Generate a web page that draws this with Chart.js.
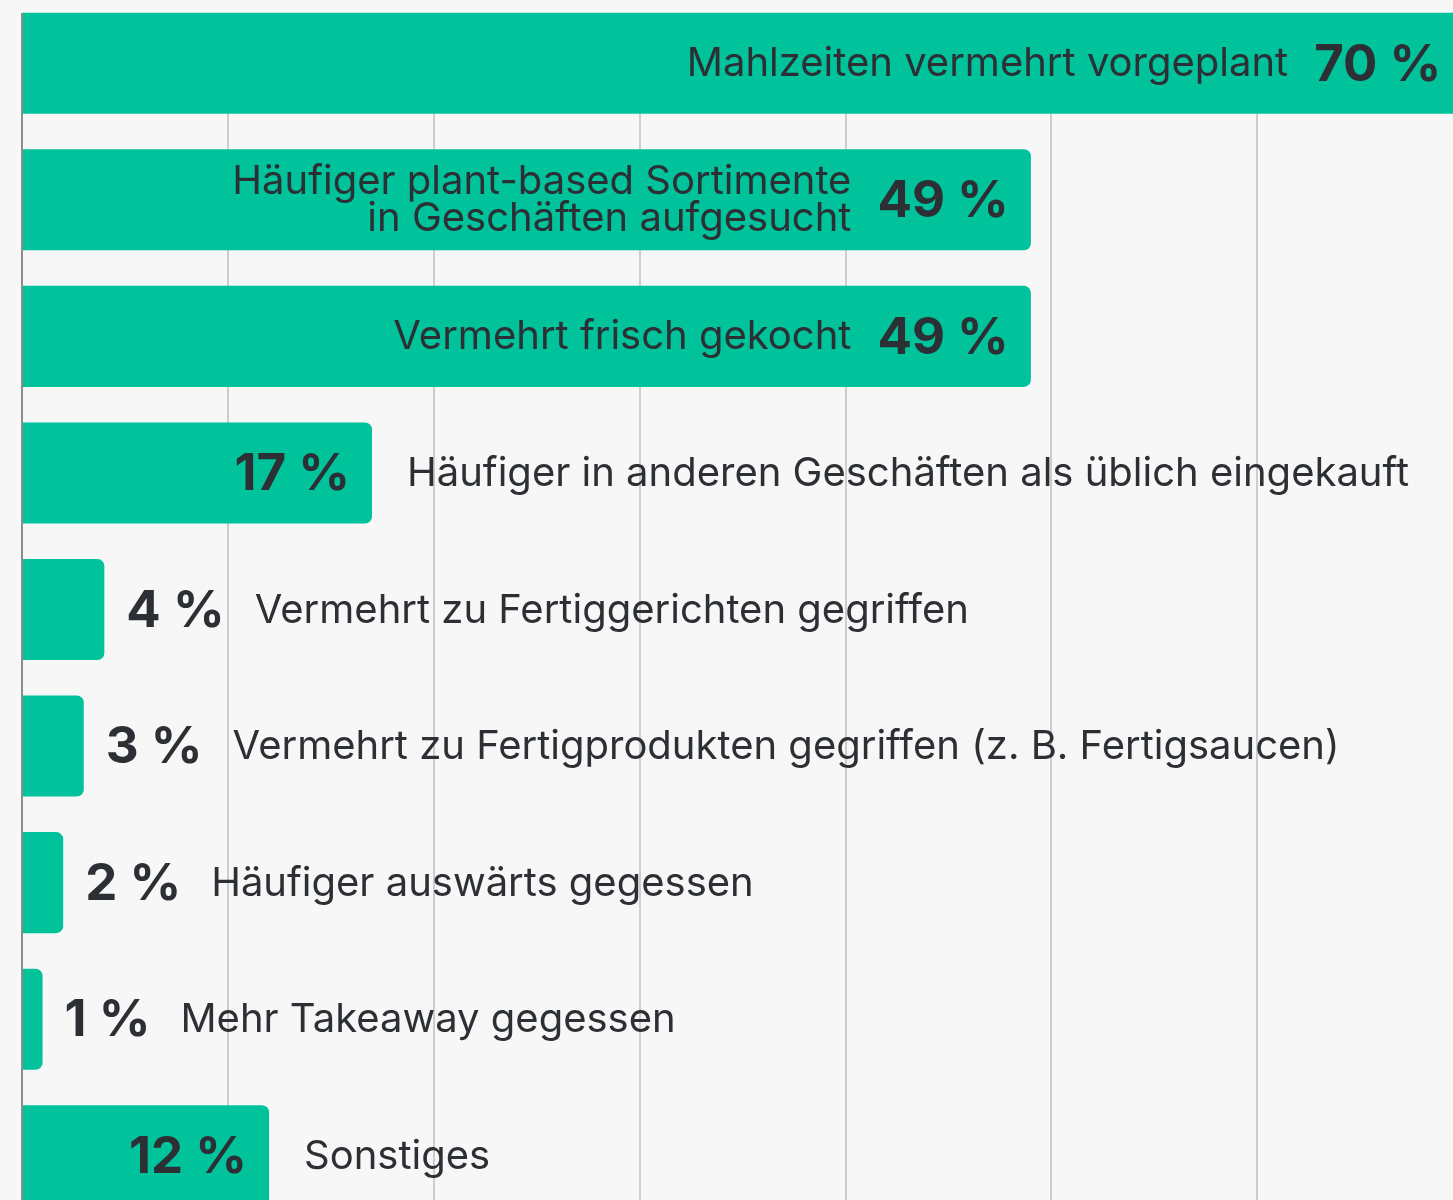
<!DOCTYPE html>
<html>
<head>
<meta charset="utf-8">
<script src="https://cdn.jsdelivr.net/npm/chart.js@4"></script>
<style>
  html, body { margin: 0; padding: 0; background: #f7f7f7; overflow: hidden; }
  body { width: 1453px; height: 1200px; position: relative; }
  #chart { position: absolute; left: 0; top: -5px; }
</style>
</head>
<body>
<canvas id="chart" width="1453" height="1229"></canvas>
<script>
// Data
const categories = [
    ["Mahlzeiten vermehrt vorgeplant"],
    ["Häufiger plant-based Sortimente", "in Geschäften aufgesucht"],
    ["Vermehrt frisch gekocht"],
    ["Häufiger in anderen Geschäften als üblich eingekauft"],
    ["Vermehrt zu Fertiggerichten gegriffen"],
    ["Vermehrt zu Fertigprodukten gegriffen (z. B. Fertigsaucen)"],
    ["Häufiger auswärts gegessen"],
    ["Mehr Takeaway gegessen"],
    ["Sonstiges"]
];
const shares = [70, 49, 49, 17, 4, 3, 2, 1, 12];
const gridSteps = [0, 10, 20, 30, 40, 50, 60];

const BAR_COLOR = "#00c39c";
const TEXT_COLOR = "#2c2f33";
const BG_COLOR = "#f7f7f7";
const LABEL_FONT = "40px Inter, 'Noto Sans', sans-serif";
const VALUE_FONT = "bold 51px Inter, 'Noto Sans', sans-serif";

// draws the value + text next to / inside each bar
const barLabels = {
    id: "barLabels",
    beforeDatasetsDraw(chart) {
        // keep the area above the first bar clean (no grid there)
        const ctx = chart.ctx;
        ctx.save();
        ctx.fillStyle = BG_COLOR;
        ctx.fillRect(0, 0, chart.width, 18);
        ctx.restore();
    },
    afterDatasetsDraw(chart) {
        const ctx = chart.ctx;
        const bars = chart.getDatasetMeta(0).data;
        ctx.save();
        ctx.fillStyle = TEXT_COLOR;
        ctx.textBaseline = "middle";

        bars.forEach((bar, i) => {
            const v = shares[i];
            const lines = categories[i];
            const valueText = v + " %";
            const end = bar.x;
            const y = bar.y;
            const lineH = 37;

            ctx.font = VALUE_FONT;
            const valueW = ctx.measureText(valueText).width;

            let valueLeft, labelX, labelAlign;
            if (v >= 40) {
                valueLeft = end - 22 - valueW;
                labelX = valueLeft - 26;
                labelAlign = "right";
            } else if (v >= 10) {
                valueLeft = end - 22 - valueW;
                labelX = end + 35;
                labelAlign = "left";
            } else {
                valueLeft = end + 22;
                labelX = valueLeft + valueW + 30;
                labelAlign = "left";
            }

            ctx.textAlign = "left";
            ctx.fillText(valueText, valueLeft, y + 2);

            ctx.font = LABEL_FONT;
            ctx.textAlign = labelAlign;
            const top = y - (lines.length - 1) * lineH / 2;
            lines.forEach((line, k) => {
                ctx.fillText(line, labelX, top + k * lineH + 1);
            });
        });
        ctx.restore();
    }
};

const chart = new Chart(document.getElementById("chart"), {
    type: "bar",
    data: {
        labels: categories,
        datasets: [{
            data: shares,
            backgroundColor: BAR_COLOR,
            borderWidth: 0,
            borderRadius: 7,
            borderSkipped: "start",
            categoryPercentage: 1,
            barPercentage: 0.74
        }]
    },
    options: {
        indexAxis: "y",
        responsive: false,
        animation: false,
        layout: { padding: { left: 22, right: 0, top: 0, bottom: 0 } },
        plugins: {
            legend: { display: false },
            tooltip: { enabled: false }
        },
        scales: {
            x: {
                min: 0,
                max: 69.5,
                afterBuildTicks(scale) {
                    scale.ticks = gridSteps.map(v => ({ value: v }));
                },
                ticks: { display: false },
                border: { display: false },
                grid: {
                    drawTicks: false,
                    color: ctx => ctx.tick && ctx.tick.value === 0 ? "#8c8c8c" : "#cdcdcd",
                    lineWidth: 2
                }
            },
            y: {
                display: false
            }
        }
    },
    plugins: [barLabels]
});
</script>
</body>
</html>
